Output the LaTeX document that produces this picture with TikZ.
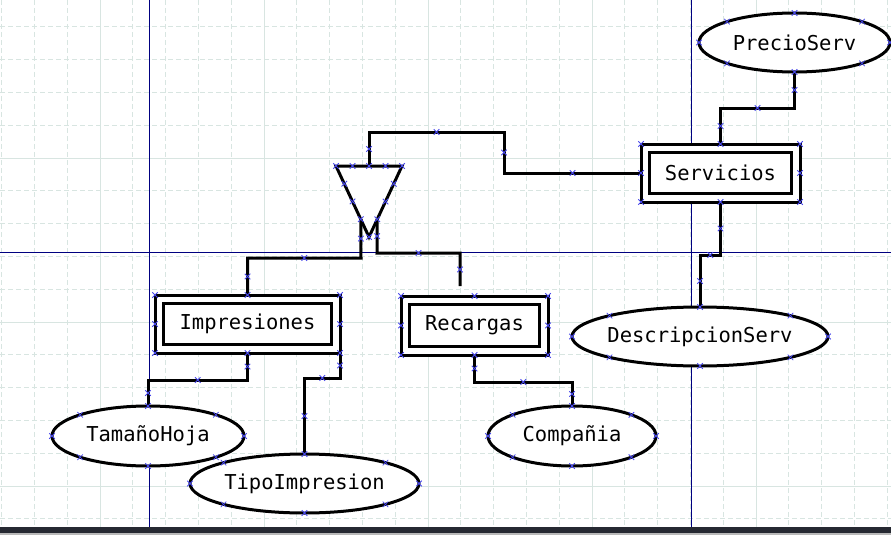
\documentclass[tikz,border=0pt]{standalone}
\usepackage{fontspec}
\setmonofont{DejaVu Sans Mono}
\usetikzlibrary{shapes.geometric,shapes.misc,calc}

\definecolor{rejilla}{RGB}{216,229,225}
\definecolor{guia}{RGB}{0,0,128}
\definecolor{marca}{RGB}{70,70,235}
\definecolor{barra}{RGB}{38,41,50}
\definecolor{barrab}{RGB}{185,185,185}

\newcommand{\fuenteer}{\ttfamily\fontsize{20.5}{24}\selectfont}

\tikzset{
  entidad/.style={rectangle, draw, line width=3pt, fill=white, outer sep=0pt,
    minimum height=58pt, font=\fuenteer,
    path picture={\draw[line width=3pt]
      ([shift={(8.5pt,8.5pt)}]path picture bounding box.south west) rectangle
      ([shift={(-8.5pt,-8.5pt)}]path picture bounding box.north east);}},
  atributo/.style={ellipse, draw, line width=3pt, fill=white, outer sep=0pt,
    inner sep=0pt, font=\fuenteer},
  conector/.style={line width=3pt},
  hx/.style={cross out, draw=marca, line width=0.8pt, minimum size=5.5pt,
    inner sep=0pt, outer sep=0pt},
  rej/.style={rejilla, line width=1pt}
}

\begin{document}
\begin{tikzpicture}[x=1pt,y=-1pt]
    \useasboundingbox (0,0) rectangle (891,535);
    % Rejilla
    \foreach \i in {0,...,27}
      \draw[rej, dash pattern=on 5pt off 3pt] ({1.6+32.8*\i},0) -- ({1.6+32.8*\i},527);
    \foreach \j in {1,...,16}
      \draw[rej, dash pattern=on 5pt off 3pt] (0,{-6+32.8*\j}) -- (891,{-6+32.8*\j});
    \foreach \x in {100,264,428,592,756}
      \draw[rej] (\x,0) -- (\x,527);
    \foreach \y in {158,322,486}
      \draw[rej] (0,\y) -- (891,\y);
    % Guias
    \draw[guia, line width=1pt] (149.5,0) -- (149.5,527);
    \draw[guia, line width=1pt] (691,0) -- (691,527);
    \draw[guia, line width=1pt] (0,252) -- (891,252);
    % Entidades
    \node[entidad, minimum width=159pt] (servicios) at (720.5,173) {Servicios};
    \node[entidad, minimum width=185pt] (impresiones) at (247.5,324) {Impresiones};
    \node[entidad, minimum width=147pt, minimum height=59pt] (recargas) at (474.5,325.5) {Recargas};
    % Atributos
    \node[atributo, minimum width=191pt, minimum height=59pt] (precio) at (794.5,42.5) {PrecioServ};
    \node[atributo, minimum width=256pt, minimum height=59pt, inner xsep=-3pt] (descripcion) at (700,336.5) {DescripcionServ};
    \node[atributo, minimum width=192pt, minimum height=60pt] (tamano) at (148,436) {TamañoHoja};
    \node[atributo, minimum width=229pt, minimum height=59pt] (tipo) at (304.5,483.5) {TipoImpresion};
    \node[atributo, minimum width=168pt, minimum height=60pt] (compania) at (572,436) {Compañia};
    % Especializacion
    \coordinate (isaA) at (336,166);
    \coordinate (isaB) at (402,166);
    \coordinate (isaC) at (369,237);
    \coordinate (isaT) at ($(isaA)!0.5!(isaB)$);
    \coordinate (isaL) at ($(isaA)!0.75!(isaC)$);
    \coordinate (isaR) at ($(isaB)!0.75!(isaC)$);
    \coordinate (recargasfin) at (460,286);
    \draw[conector, fill=white] (isaA) -- (isaB) -- (isaC) -- cycle;
    % Conectores
    \draw[conector] (isaT) -- node[hx]{} (369,132) -- node[hx]{} (504,132)
      -- node[hx]{} (504,173) -- node[hx]{} (servicios.west);
    \draw[conector] (precio.south) -- node[hx]{} (794.5,108) -- node[hx]{} (720.5,108)
      -- node[hx]{} (servicios.north);
    \draw[conector] (servicios.south) -- node[hx]{} (720.5,255) -- node[hx]{} (700,255)
      -- node[hx]{} (descripcion.north);
    \draw[conector] (isaL) -- node[hx]{} (361,258) -- node[hx]{} (247.5,258)
      -- node[hx]{} (impresiones.north);
    \draw[conector] (isaR) -- node[hx]{} (377,253) -- node[hx]{} (460,253)
      -- node[hx]{} (recargasfin);
    \draw[conector] (impresiones.south) -- node[hx]{} (247.5,380) -- node[hx]{} (148,380)
      -- node[hx]{} (tamano.north);
    \draw[conector] (impresiones.south east) -- node[hx]{} (340,378) -- node[hx]{} (304.5,378)
      -- node[hx]{} (tipo.north);
    \draw[conector] (recargas.south) -- node[hx]{} (474.5,382) -- node[hx]{} (572,382)
      -- node[hx]{} (compania.north);
    % Marcas de seleccion
    \foreach \n in {servicios,impresiones,recargas}
      \foreach \a in {north west,north,north east,east,south east,south,south west,west}
        \node[hx] at (\n.\a) {};
    \foreach \n/\rx/\ry in {precio/95.5/29.5,descripcion/128/29.5,tamano/96/30,tipo/114.5/29.5,compania/84/30}
      \foreach \t in {0,45,...,315}
        \node[hx] at ($(\n.center)+({\rx*cos(\t)},{\ry*sin(\t)})$) {};
    \foreach \p in {0,0.25,0.5,0.75} {
      \node[hx] at ($(isaA)!\p!(isaB)$) {};
      \node[hx] at ($(isaB)!\p!(isaC)$) {};
      \node[hx] at ($(isaC)!\p!(isaA)$) {};
    }
    % Barra inferior
    \fill[barra] (0,527) rectangle (891,533);
    \fill[barrab] (0,533) rectangle (891,535);
\end{tikzpicture}
\end{document}
